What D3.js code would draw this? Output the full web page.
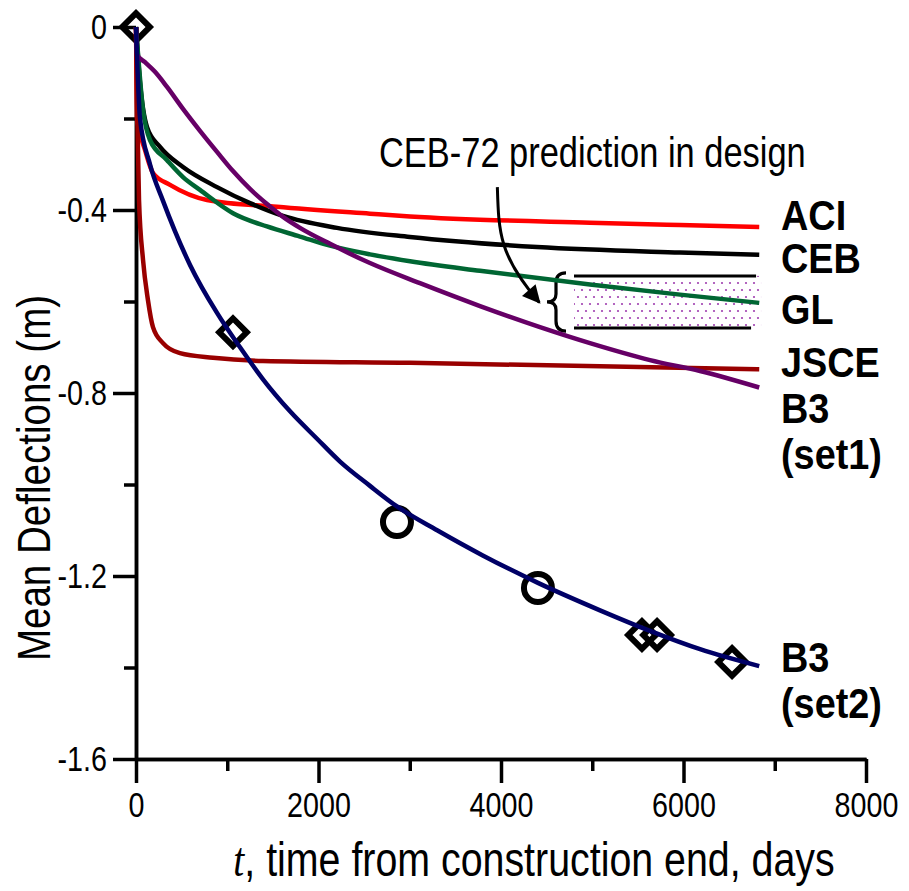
<!DOCTYPE html>
<html>
<head>
<meta charset="utf-8">
<script src="https://cdn.jsdelivr.net/npm/d3@7"></script>
<style>
  html, body { margin: 0; padding: 0; background: #fff; }
  svg text { font-family: "Liberation Sans", Arial, sans-serif; fill: #000; }
</style>
</head>
<body>
<svg id="chart" width="909" height="891"></svg>
<script>
// curves: [t (days), mean deflection (m)]
const aci = [[0, 0], [11, -0.2], [22, -0.214], [99, -0.269], [186, -0.319], [373, -0.345], [778, -0.378],
  [1545, -0.393], [2564, -0.408], [3003, -0.414], [4975, -0.428], [5962, -0.433], [6830, -0.437]]
const ceb = [[0, 0], [44, -0.122], [121, -0.219], [263, -0.262], [515, -0.306], [888, -0.35], [1249, -0.385],
  [1611, -0.413], [2203, -0.439], [3003, -0.459], [4395, -0.481], [5962, -0.493], [6830, -0.498]]
const gl = [[0, 0], [77, -0.181], [153, -0.247], [340, -0.291], [515, -0.328], [701, -0.356], [1063, -0.407],
  [1435, -0.436], [1797, -0.458], [2126, -0.478], [2564, -0.497], [3003, -0.512], [3770, -0.533],
  [4975, -0.563], [5962, -0.585], [6830, -0.603]]
const jsce = [[0, 0], [11, -0.16], [33, -0.378], [77, -0.509], [131, -0.597], [186, -0.656], [296, -0.691],
  [482, -0.713], [844, -0.723], [1392, -0.73], [3003, -0.734], [6830, -0.748]]
const b3set1 = [[0, 0], [11, -0.061], [99, -0.077], [208, -0.098], [340, -0.131], [515, -0.179], [701, -0.227],
  [888, -0.273], [1063, -0.315], [1249, -0.354], [1436, -0.387], [1611, -0.415], [1797, -0.439],
  [2126, -0.474], [2564, -0.516], [3112, -0.56], [3770, -0.61], [4427, -0.656], [4975, -0.691],
  [5633, -0.728], [6181, -0.752], [6830, -0.788]]
const b3set2 = [[0, 0], [44, -0.2], [153, -0.3], [296, -0.38], [592, -0.52], [888, -0.625], [1140, -0.7],
  [1392, -0.77], [1688, -0.84], [1984, -0.9], [2236, -0.95], [2564, -1.003], [2860, -1.048],
  [3300, -1.1], [3800, -1.155], [4405, -1.215], [5085, -1.275], [5633, -1.32], [6181, -1.36], [6830, -1.397]]

// measured points
const measuredDiamonds = [[0, 0], [1063, -0.667], [5545, -1.329], [5710, -1.329], [6532, -1.388]]
const measuredCircles = [[2860, -1.082], [4405, -1.226]]

// CEB-72 design band
const bandT = [4800, 6850]
const bandV = [-0.544, -0.658]

const xTicks = [0, 2000, 4000, 6000, 8000]
const xMinorTicks = [1000, 3000, 5000, 7000]
const yTicks = [0, -0.4, -0.8, -1.2, -1.6]
const yMinorTicks = [-0.2, -0.6, -1.0, -1.4]

const series = [
  { name: "ACI", data: aci, color: "#ff0000" },
  { name: "CEB", data: ceb, color: "#000000" },
  { name: "GL", data: gl, color: "#006633" },
  { name: "JSCE", data: jsce, color: "#990000" },
  { name: "B3 (set1)", data: b3set1, color: "#660066" },
  { name: "B3 (set2)", data: b3set2, color: "#000066" },
]

const svg = d3.select("#chart")

const x = d3.scaleLinear().domain([0, 8000]).range([136, 866])
const y = d3.scaleLinear().domain([0, -1.6]).range([27, 759])

const fmtY = (d) => (d === 0 ? "0" : d.toFixed(1))

// squeeze text horizontally around its anchor (condensed look)
const narrow = (sel, sx) => {
  sel.each(function () {
    const t = d3.select(this)
    const xx = +t.attr("x") || 0
    const yy = +t.attr("y") || 0
    t.attr("x", 0).attr("y", 0).attr("transform", `translate(${xx},${yy}) scale(${sx},1)`)
  })
}

// dotted fill for the design band
const defs = svg.append("defs")
const pat = defs.append("pattern")
  .attr("id", "dots")
  .attr("patternUnits", "userSpaceOnUse")
  .attr("width", 8)
  .attr("height", 14)
pat.append("circle").attr("cx", 2).attr("cy", 3).attr("r", 1.1).attr("fill", "#a040b0")
pat.append("circle").attr("cx", 6).attr("cy", 10).attr("r", 1.1).attr("fill", "#a040b0")

defs.append("marker")
  .attr("id", "arrowhead")
  .attr("viewBox", "0 0 10 10")
  .attr("refX", 9)
  .attr("refY", 5)
  .attr("markerUnits", "userSpaceOnUse")
  .attr("markerWidth", 20)
  .attr("markerHeight", 18)
  .attr("orient", "auto")
  .append("path")
  .attr("d", "M0,0L10,5L0,10z")
  .attr("fill", "#000")

// axes
const styleAxis = (g) => {
  g.select(".domain").attr("stroke", "#000").attr("stroke-width", 3.5)
  g.selectAll(".tick line").attr("stroke", "#000").attr("stroke-width", 3.5)
  g.selectAll(".tick text").attr("fill", "#000").attr("font-size", 35)
    .attr("font-family", '"Liberation Sans", Arial, sans-serif')
    .call(narrow, 0.82)
}

svg.append("g")
  .attr("transform", `translate(0,${y(-1.6)})`)
  .call(d3.axisBottom(x).tickValues(xMinorTicks).tickSize(12).tickSizeOuter(0).tickFormat(""))
  .call(styleAxis)
svg.append("g")
  .attr("transform", `translate(0,${y(-1.6)})`)
  .call(d3.axisBottom(x).tickValues(xTicks).tickSize(24).tickSizeOuter(0).tickPadding(9).tickFormat(d3.format("d")))
  .call(styleAxis)

svg.append("g")
  .attr("transform", `translate(${x(0)},0)`)
  .call(d3.axisLeft(y).tickValues(yMinorTicks).tickSize(12).tickSizeOuter(0).tickFormat(""))
  .call(styleAxis)
svg.append("g")
  .attr("transform", `translate(${x(0)},0)`)
  .call(d3.axisLeft(y).tickValues(yTicks).tickSize(23).tickSizeOuter(0).tickPadding(6).tickFormat(fmtY))
  .call(styleAxis)

// axis titles
svg.append("text")
  .attr("transform", `translate(50,478) rotate(-90) scale(0.82,1)`)
  .attr("text-anchor", "middle")
  .attr("font-size", 47)
  .text("Mean Deflections (m)")

const xt = svg.append("text")
  .attr("transform", `translate(534,876) scale(0.82,1)`)
  .attr("text-anchor", "middle")
  .attr("font-size", 48)
xt.append("tspan")
  .attr("font-family", '"Liberation Serif", serif')
  .attr("font-style", "italic")
  .text("t")
xt.append("tspan").text(", time from construction end, days")

// design band
svg.append("rect")
  .attr("x", x(bandT[0]))
  .attr("y", y(bandV[0]))
  .attr("width", x(bandT[1]) - x(bandT[0]))
  .attr("height", y(bandV[1]) - y(bandV[0]))
  .attr("fill", "url(#dots)")
svg.append("line")
  .attr("x1", x(bandT[0])).attr("x2", x(bandT[1]) - 5)
  .attr("y1", y(bandV[0])).attr("y2", y(bandV[0]))
  .attr("stroke", "#000").attr("stroke-width", 3)
svg.append("line")
  .attr("x1", x(bandT[0])).attr("x2", x(bandT[1]) - 10)
  .attr("y1", y(bandV[1])).attr("y2", y(bandV[1]))
  .attr("stroke", "#000").attr("stroke-width", 3)

// curly brace left of the band
const bx = x(bandT[0]) - 18
const by0 = y(bandV[0]) - 3
const by1 = y(bandV[1]) + 3
const bm = (by0 + by1) / 2
svg.append("path")
  .attr("d", `M${bx + 10},${by0} Q${bx},${by0} ${bx},${by0 + 10} L${bx},${bm - 8} Q${bx},${bm} ${bx - 9},${bm}
    Q${bx},${bm} ${bx},${bm + 8} L${bx},${by1 - 10} Q${bx},${by1} ${bx + 10},${by1}`)
  .attr("fill", "none")
  .attr("stroke", "#000")
  .attr("stroke-width", 3.2)

// measured points (drawn under the curves)
svg.selectAll(".diamond")
  .data(measuredDiamonds)
  .join("path")
  .attr("class", "diamond")
  .attr("transform", (d) => `translate(${x(d[0])},${y(d[1])}) rotate(45)`)
  .attr("d", d3.symbol(d3.symbolSquare, 380)())
  .attr("fill", "none")
  .attr("stroke", "#000")
  .attr("stroke-width", 6)

svg.selectAll(".circle")
  .data(measuredCircles)
  .join("circle")
  .attr("class", "circle")
  .attr("cx", (d) => x(d[0]))
  .attr("cy", (d) => y(d[1]))
  .attr("r", 14)
  .attr("fill", "none")
  .attr("stroke", "#000")
  .attr("stroke-width", 6)

// curves
const line = d3.line()
  .x((d) => x(d[0]))
  .y((d) => y(d[1]))
  .curve(d3.curveMonotoneX)

svg.selectAll(".curve")
  .data(series)
  .join("path")
  .attr("class", "curve")
  .attr("d", (s) => line(s.data))
  .attr("fill", "none")
  .attr("stroke", (s) => s.color)
  .attr("stroke-width", 4.5)

// annotation + arrow
svg.append("text")
  .attr("transform", "translate(379,167) scale(0.82,1)")
  .attr("font-size", 42)
  .text("CEB-72 prediction in design")

svg.append("path")
  .attr("d", `M${x(3960)},${y(-0.35)} C${x(3975)},${y(-0.45)} ${x(3980)},${y(-0.5)} ${x(4420)},${y(-0.602)}`)
  .attr("fill", "none")
  .attr("stroke", "#000")
  .attr("stroke-width", 3)
  .attr("marker-end", "url(#arrowhead)")

// curve labels
const labels = [
  { lines: ["ACI"], y: 230 },
  { lines: ["CEB"], y: 273 },
  { lines: ["GL"], y: 324 },
  { lines: ["JSCE"], y: 377 },
  { lines: ["B3", "(set1)"], y: 423 },
  { lines: ["B3", "(set2)"], y: 672 },
]
labels.forEach((l) => {
  const t = svg.append("text")
    .attr("transform", `translate(781,${l.y}) scale(0.88,1)`)
    .attr("font-size", 43)
    .attr("font-weight", "bold")
  l.lines.forEach((s, i) => {
    t.append("tspan").attr("x", 0).attr("dy", i === 0 ? 0 : 46).text(s)
  })
})
</script>
</body>
</html>
